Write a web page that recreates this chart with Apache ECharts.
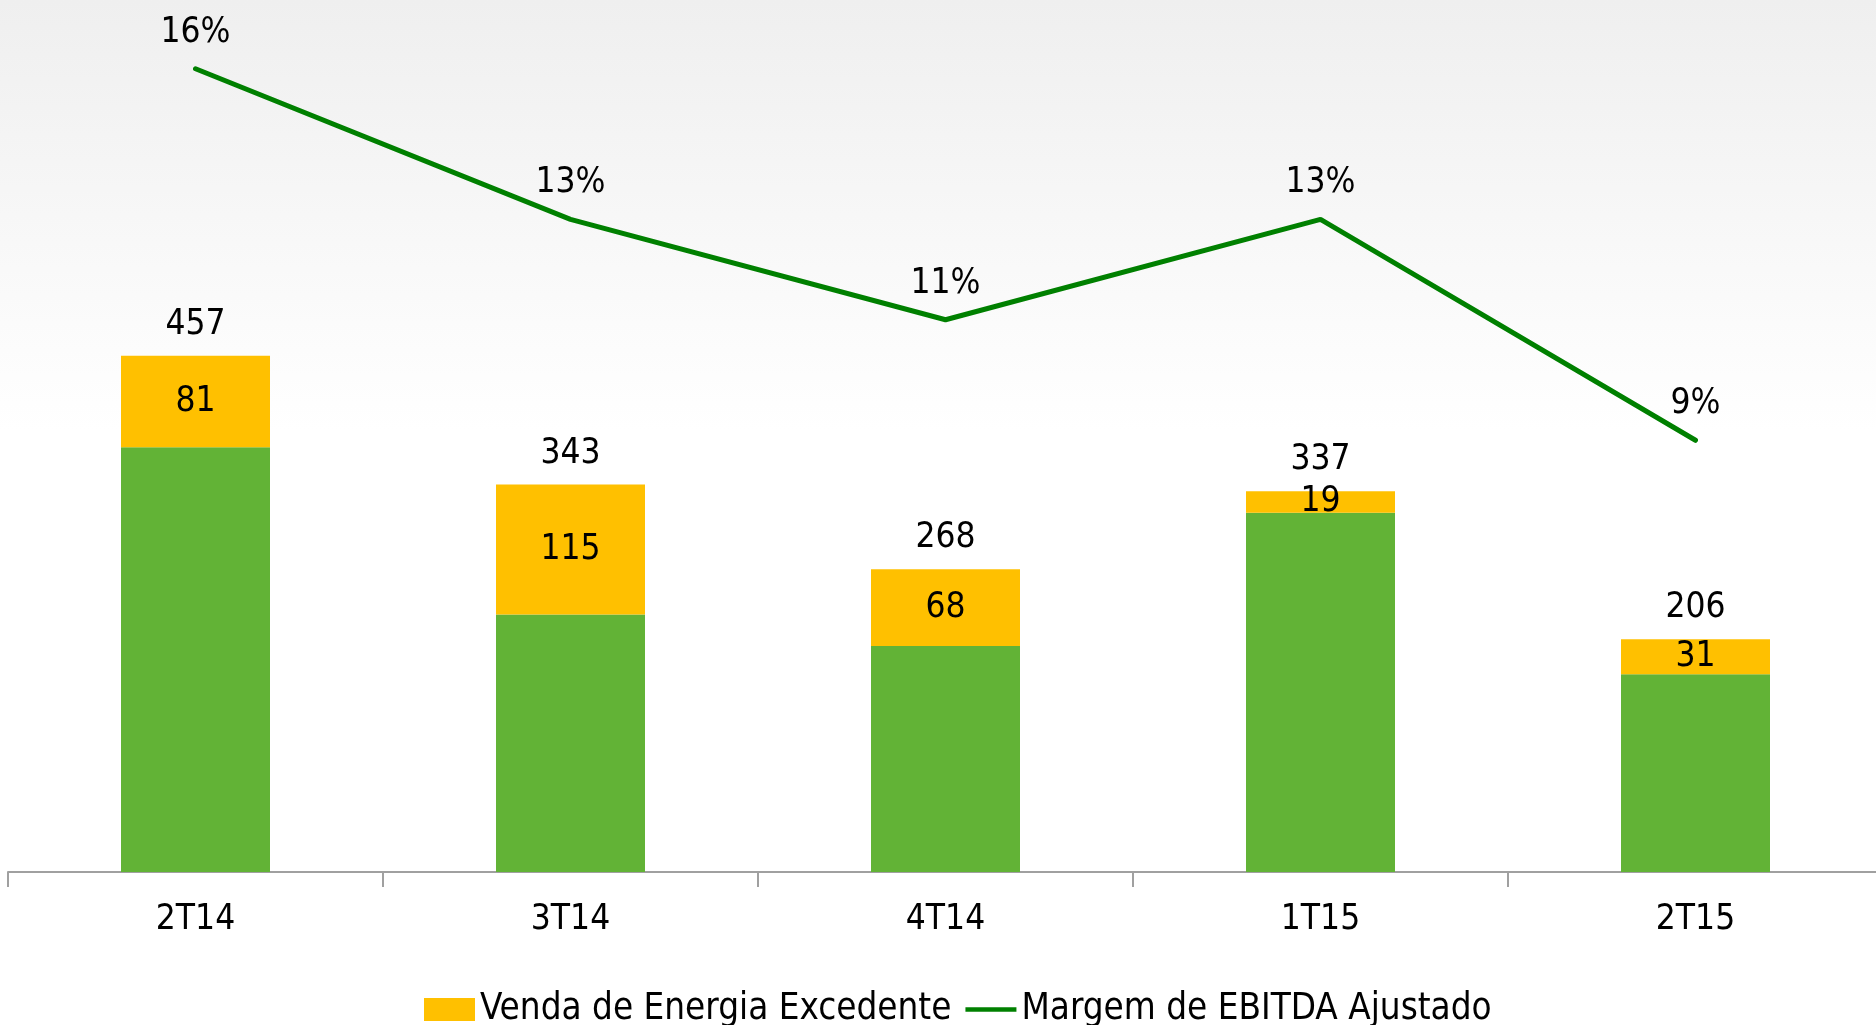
<!DOCTYPE html>
<html>
<head>
<meta charset="utf-8">
<script src="https://cdn.jsdelivr.net/npm/echarts@6/dist/echarts.min.js"></script>
<style>
  html, body { margin: 0; padding: 0; background: #fff; overflow: hidden; }
  /* um pouco mais largo que a janela: o eixo continua além da borda direita */
  #chart { width: 1883px; height: 1025px; }
</style>
</head>
<body>
<div id="chart"></div>
<script>
  // dados
  var quarters = ['2T14', '3T14', '4T14', '1T15', '2T15'];
  var ebitdaBase = [376, 228, 200, 318, 175];
  var vendaExcedente = [81, 115, 68, 19, 31];
  var ebitdaTotal = [457, 343, 268, 337, 206];
  var margem = [16, 13, 11, 13, 8.6];

  var fontName = '"DejaVu Sans Condensed", "DejaVu Sans", sans-serif';

  var chart = echarts.init(document.getElementById('chart'));
  chart.setOption({
    animation: false,
    backgroundColor: {
      type: 'linear', x: 0, y: 0, x2: 0, y2: 1,
      colorStops: [
        {offset: 0, color: '#efefef'},
        {offset: 0.42, color: '#ffffff'},
        {offset: 1, color: '#ffffff'}
      ]
    },
    textStyle: { fontFamily: fontName },
    grid: { left: 8, right: 0, top: 0, bottom: 153 },
    legend: {
      data: [
        {name: 'Venda de Energia Excedente', icon: 'rect'},
        {name: 'Margem de EBITDA Ajustado', icon: 'path://M0,8.5h100v9h-100z'}
      ],
      left: 419,
      top: 986,
      itemWidth: 51,
      itemHeight: 23,
      itemGap: 14,
      textStyle: { fontFamily: fontName, fontSize: 36.5, color: '#000' }
    },
    xAxis: {
      type: 'category',
      data: quarters,
      axisLine: { show: true, lineStyle: { color: '#a0a0a0', width: 2 } },
      axisTick: { show: true, length: 15, lineStyle: { color: '#a0a0a0', width: 2 } },
      axisLabel: { fontSize: 35, color: '#000', margin: 30, fontFamily: fontName }
    },
    yAxis: [
      { type: 'value', min: 0, max: 771.9, show: false, splitLine: { show: false } },
      { type: 'value', min: 0, max: 17.37, show: false, splitLine: { show: false } }
    ],
    series: [
      {
        name: 'EBITDA Ajustado',
        type: 'bar',
        stack: 'ebitda',
        barWidth: 149,
        data: ebitdaBase,
        itemStyle: { color: '#62B336' }
      },
      {
        name: 'Venda de Energia Excedente',
        type: 'bar',
        stack: 'ebitda',
        barWidth: 149,
        data: vendaExcedente,
        itemStyle: { color: '#FFC000' },
        label: {
          show: true, position: 'inside', fontSize: 35, color: '#000', fontFamily: fontName
        }
      },
      {
        name: 'Total',
        type: 'line',
        data: ebitdaTotal,
        symbol: 'circle',
        symbolSize: 1,
        showSymbol: true,
        itemStyle: { color: 'rgba(0,0,0,0)' },
        lineStyle: { width: 0, color: 'rgba(0,0,0,0)' },
        silent: true,
        label: {
          show: true, position: 'top', distance: 13, fontSize: 35, color: '#000', fontFamily: fontName
        }
      },
      {
        name: 'Margem de EBITDA Ajustado',
        type: 'line',
        yAxisIndex: 1,
        data: margem,
        symbol: 'circle',
        symbolSize: 1,
        showSymbol: true,
        itemStyle: { color: '#008000' },
        lineStyle: { color: '#008000', width: 5, cap: 'round' },
        label: {
          show: true, position: 'top', distance: 18, fontSize: 35, color: '#000', fontFamily: fontName,
          formatter: function (p) { return Math.round(p.value) + '%'; }
        }
      }
    ]
  });
</script>
</body>
</html>
